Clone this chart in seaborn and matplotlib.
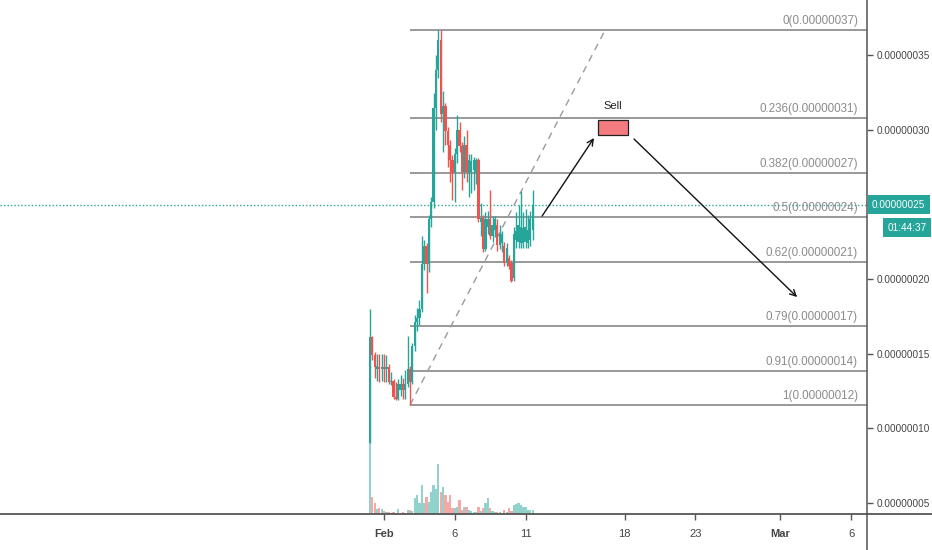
import pandas as pd
import matplotlib
matplotlib.use("Agg")
import matplotlib.pyplot as plt
import matplotlib.dates as mdates
import matplotlib.transforms as mtransforms
from matplotlib.patches import Rectangle
from matplotlib.lines import Line2D
import seaborn as sns

# prices are stored in units of 1e-8
PRICE_UNIT = 1e-8

# 4-hour candles
opens = [9.0, 16.1, 14.9, 14.0, 14.1, 14.0, 14.1, 14.0, 14.1, 13.1,
         13.2, 12.1, 12.0, 12.6, 13.0, 12.6, 13.0, 14.0, 13.1, 15.5,
         17.1, 17.4, 18.0, 21.0, 22.2, 21.0, 24.0, 25.2, 31.5, 34.0,
         36.0, 31.1, 31.6, 29.9, 29.0, 28.0, 27.1, 28.4, 30.0, 28.9,
         27.2, 29.0, 27.1, 27.2, 27.3, 27.2, 28.0, 23.8, 24.1, 22.0,
         23.5, 24.0, 22.9, 23.3, 23.6, 22.3, 22.4, 22.2, 21.1, 21.4,
         21.1, 20.1, 22.6, 22.5, 22.4, 22.4, 22.5, 22.4, 22.6, 23.3]
highs = [18.0, 16.2, 15.1, 15.0, 15.0, 15.0, 15.0, 14.9, 14.3, 13.8,
         13.3, 13.1, 13.3, 13.6, 13.4, 13.9, 16.2, 14.2, 15.7, 17.6,
         18.1, 18.6, 22.9, 22.6, 22.4, 24.3, 25.5, 32.5, 35.0, 36.7,
         36.7, 32.6, 31.8, 30.2, 29.3, 28.3, 28.8, 31.0, 30.5, 29.2,
         29.6, 30.0, 28.4, 28.4, 28.2, 28.1, 28.1, 25.1, 24.3, 24.5,
         24.6, 26.0, 24.2, 24.2, 24.0, 23.6, 23.2, 22.5, 22.4, 21.6,
         21.3, 23.5, 24.5, 25.0, 25.9, 24.5, 24.7, 24.3, 24.6, 26.0]
lows = [9.0, 14.6, 13.4, 13.2, 13.1, 13.2, 13.1, 13.1, 13.0, 12.9,
        12.0, 11.9, 11.9, 12.2, 12.0, 12.0, 12.8, 11.57, 13.0, 15.2,
        16.5, 16.9, 17.8, 20.6, 19.1, 20.5, 23.5, 24.8, 30.0, 33.5,
        30.5, 28.5, 29.0, 27.5, 26.5, 25.3, 25.2, 27.8, 28.5, 26.0,
        26.8, 26.5, 25.5, 25.8, 26.0, 26.4, 23.8, 22.9, 21.8, 21.9,
        23.0, 22.7, 22.5, 22.8, 21.9, 22.0, 21.8, 20.9, 20.9, 20.7,
        19.8, 19.9, 22.1, 22.1, 22.1, 22.1, 22.1, 22.1, 22.2, 22.6]
closes = [16.1, 14.9, 14.1, 14.2, 14.0, 14.1, 14.0, 14.1, 13.1, 13.2,
          12.1, 12.0, 13.0, 13.0, 12.6, 13.0, 14.0, 13.1, 15.5, 17.1,
          17.4, 18.0, 21.0, 22.2, 21.0, 24.0, 25.2, 31.5, 34.0, 36.0,
          31.1, 31.6, 29.9, 29.0, 28.0, 27.1, 28.4, 30.0, 28.9, 27.2,
          29.0, 27.2, 28.0, 27.9, 28.0, 28.0, 24.0, 24.1, 22.0, 24.0,
          24.0, 22.9, 23.6, 24.0, 22.3, 23.0, 23.0, 21.1, 22.1, 20.9,
          19.9, 23.0, 23.2, 23.6, 23.5, 23.4, 23.5, 23.3, 24.0, 25.0]
volumes = [74, 17, 11, 5, 6, 5, 3, 2, 2, 1,
           2, 1, 5, 1, 2, 1, 4, 4, 3, 16,
           19, 11, 29, 11, 17, 12, 22, 29, 25, 50,
           22, 27, 19, 12, 19, 6, 6, 7, 14, 4,
           7, 7, 4, 3, 2, 2, 7, 3, 6, 11,
           16, 6, 3, 2, 2, 2, 1, 4, 2, 6,
           3, 9, 10, 11, 9, 7, 7, 4, 4, 4]
candle_times = pd.date_range("2021-01-31 00:00", periods=len(closes), freq="4h")

# Fibonacci retracement drawn from the swing low to the swing high
fib_levels = [0, 0.236, 0.382, 0.5, 0.62, 0.79, 0.91, 1]
fib_high = 36.7
fib_low = 11.57
fib_start = "2021-02-02 20:00"
fib_end = "2021-02-16 15:00"

# trade idea: push up into the sell zone, then roll over
sell_zone_times = ["2021-02-16 03:00", "2021-02-18 06:00"]
sell_zone_prices = [29.66, 30.66]
sell_label = "Sell"
path_up_times = ["2021-02-12 04:00", "2021-02-15 20:00"]
path_up_prices = [24.23, 29.46]
path_down_times = ["2021-02-18 16:00", "2021-03-02 04:30"]
path_down_prices = [29.39, 18.8]

countdown = "01:44:37"

date_ticks = ["2021-02-01", "2021-02-06", "2021-02-11", "2021-02-18",
              "2021-02-23", "2021-03-01", "2021-03-06"]
date_tick_labels = ["Feb", "6", "11", "18", "23", "Mar", "6"]
price_ticks = [5, 10, 15, 20, 25, 30, 35]

view_start = "2021-01-04 20:40"
view_end = "2021-03-07 03:00"
price_range = (4.26, 38.71)

UP = "#26a69a"
DOWN = "#ef5350"
AXIS = "#555555"
FIB = "#7d7d7d"

sns.set_theme(style="white")
plt.rcParams["font.family"] = ["Liberation Sans", "DejaVu Sans"]

W, H = 932, 550
fig = plt.figure(figsize=(W / 100, H / 100), dpi=100)
rect = [0, 36 / H, 867 / W, 514 / H]
axv = fig.add_axes(rect)
ax = fig.add_axes(rect, sharex=axv)
ax.set_facecolor("none")
axv.set_facecolor("white")

x = mdates.date2num(candle_times)
step = 1 / 6
is_up = [c >= o for o, c in zip(opens, closes)]
col = [UP if u else DOWN for u in is_up]

# volume pane along the bottom
axv.bar(x, volumes, width=step * 0.95, color=col, alpha=0.5, linewidth=0)
axv.set_ylim(0, max(volumes) / 0.144)
axv.axis("off")

# candles
ax.vlines(x, lows, highs, colors=col, linewidth=1.0, zorder=3)
body_lo = [min(o, c) for o, c in zip(opens, closes)]
body_h = [max(abs(c - o), 0.1) for o, c in zip(opens, closes)]
ax.bar(x, body_h, bottom=body_lo, width=step * 0.95, color=col, linewidth=0, zorder=3)

xmin, xmax = mdates.date2num(pd.Timestamp(view_start)), mdates.date2num(pd.Timestamp(view_end))
ax.set_xlim(xmin, xmax)
ax.set_ylim(*price_range)

yblend = mtransforms.blended_transform_factory(ax.transAxes, ax.transData)

# Fibonacci levels
fx0 = mdates.date2num(pd.Timestamp(fib_start))
fx1 = mdates.date2num(pd.Timestamp(fib_end))
for lvl in fib_levels:
    p = fib_high - lvl * (fib_high - fib_low)
    ax.hlines(p, fx0, xmax, color=FIB, linewidth=1.1, zorder=2)
    ax.annotate(f"{lvl:g}({p * PRICE_UNIT:.8f})", xy=(1, p), xycoords=yblend,
                xytext=(-9, 3), textcoords="offset pixels", ha="right", va="bottom",
                fontsize=8.4, color="#8c8c8c", zorder=4)

trend = pd.DataFrame({"t": [fx0, fx1], "p": [fib_low, fib_high]})
sns.lineplot(data=trend, x="t", y="p", ax=ax, color="#9a9a9a", linewidth=1,
             linestyle=(0, (5, 4)), zorder=2)
ax.set_xlabel("")
ax.set_ylabel("")

# last price marker (its tag sits on the price scale in place of a tick label)
last_price = closes[-1]
ax.axhline(last_price, color=UP, linewidth=1, linestyle=(0, (1, 1.5)), zorder=2)
ax.annotate(f"{last_price * PRICE_UNIT:.8f}", xy=(1, last_price), xycoords=yblend,
            xytext=(5, 0), textcoords="offset pixels", ha="left", va="center",
            fontsize=7.2, color="white",
            bbox=dict(boxstyle="square,pad=0.45", fc=UP, ec="none"), annotation_clip=False)
ax.annotate(countdown, xy=(1, last_price), xycoords=yblend,
            xytext=(40, -23), textcoords="offset pixels", ha="center", va="center",
            fontsize=7.2, color="white",
            bbox=dict(boxstyle="square,pad=0.45", fc=UP, ec="none"), annotation_clip=False)

# sell zone and projected path
sx = [mdates.date2num(pd.Timestamp(t)) for t in sell_zone_times]
ax.add_patch(Rectangle((sx[0], sell_zone_prices[0]), sx[1] - sx[0],
                       sell_zone_prices[1] - sell_zone_prices[0],
                       facecolor="#f47c80", edgecolor="#222222", linewidth=0.9, zorder=5))
ax.annotate(sell_label, xy=((sx[0] + sx[1]) / 2, sell_zone_prices[1]),
            xytext=(0, 9), textcoords="offset pixels", ha="center", va="bottom",
            fontsize=8, color="#222222")
for ts, ps in ((path_up_times, path_up_prices), (path_down_times, path_down_prices)):
    t0, t1 = (mdates.date2num(pd.Timestamp(t)) for t in ts)
    ax.annotate("", xy=(t1, ps[1]), xytext=(t0, ps[0]),
                arrowprops=dict(arrowstyle="->", color="#111111", lw=1,
                                shrinkA=0, shrinkB=0, mutation_scale=11), zorder=5)

# axes styling
for s in ("top", "left"):
    ax.spines[s].set_visible(False)
ax.spines["right"].set_color(AXIS)
ax.spines["bottom"].set_color(AXIS)
ax.spines["right"].set_linewidth(1.1)
ax.spines["bottom"].set_linewidth(1.3)
ax.yaxis.tick_right()
ax.set_yticks(price_ticks)
ax.set_yticklabels(["" if abs(v - last_price) < 0.5 else f"{v * PRICE_UNIT:.8f}"
                    for v in price_ticks])
ax.set_xticks([mdates.date2num(pd.Timestamp(d)) for d in date_ticks])
ax.set_xticklabels(date_tick_labels)
ax.tick_params(axis="y", right=True, left=False, length=4, width=1, color=AXIS,
               pad=3, labelsize=7.2, labelcolor="#444444")
ax.tick_params(axis="x", bottom=True, length=4, width=1, color=AXIS,
               pad=7, labelsize=8, labelcolor="#444444")
for lab, txt in zip(ax.get_xticklabels(), date_tick_labels):
    if not txt.isdigit():
        lab.set_fontweight("bold")
ax.grid(False)

# axis lines continue past the plotting pane
fig.add_artist(Line2D([867 / W, 1], [36 / H, 36 / H], transform=fig.transFigure,
                      color=AXIS, linewidth=1.3))
fig.add_artist(Line2D([867 / W, 867 / W], [0, 36 / H], transform=fig.transFigure,
                      color=AXIS, linewidth=1.1))

fig.savefig("out.png", dpi=100, facecolor="white")
